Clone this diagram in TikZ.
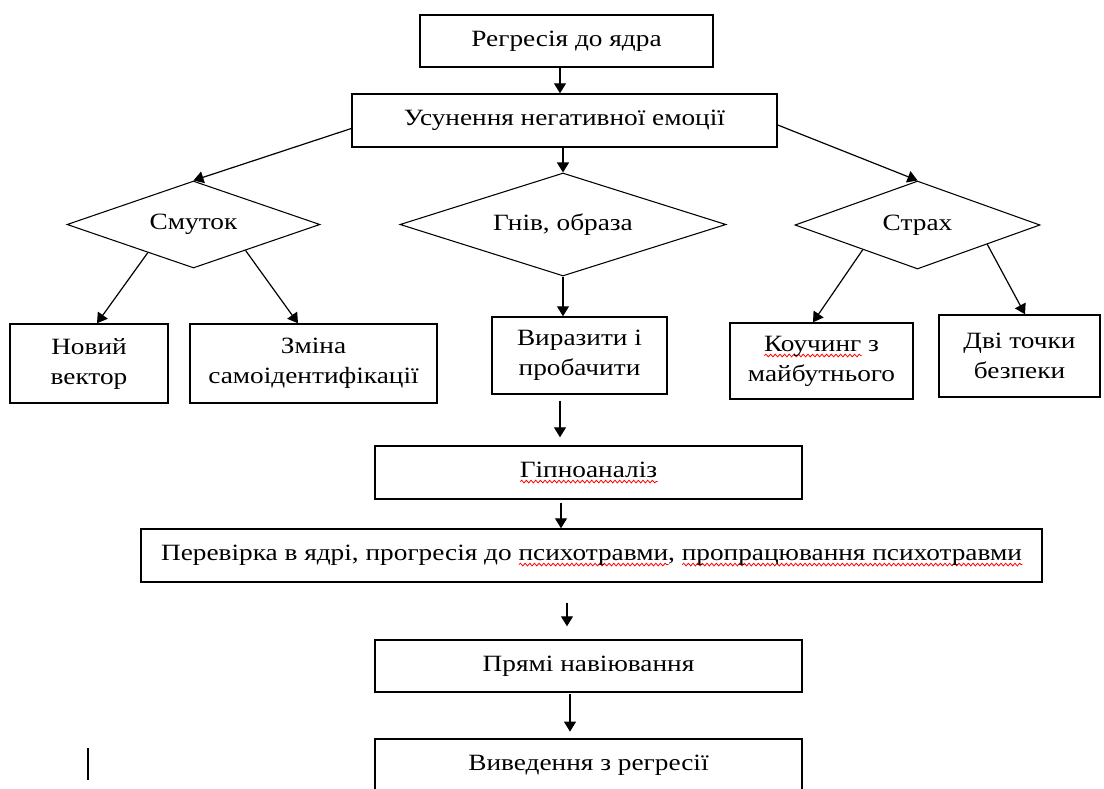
\documentclass[tikz,border=0pt]{standalone}
\usepackage{fontspec}
\setmainfont[FakeStretch=1.17]{Liberation Serif}
\usetikzlibrary{shapes.geometric,arrows.meta,calc,decorations.pathmorphing}
\newsavebox\wavebox
\newlength\wavelen
\newcommand\redwave[1]{\sbox\wavebox{#1}\setlength\wavelen{\wd\wavebox}%
  \rlap{\tikz[baseline=0pt,x=1pt,y=1pt]\draw[red,line width=0.6pt,decorate,decoration={snake,amplitude=1pt,segment length=3.5pt}] (0pt,-3.3pt) -- (\wavelen,-3.3pt);}%
  \usebox\wavebox}
\begin{document}
\begin{tikzpicture}[x=0.75pt,y=-0.75pt,
  font=\fontsize{17.5}{22.5}\selectfont,
  sz/.style 2 args={minimum width=#1*0.75pt, minimum height=#2*0.75pt},
  box/.style={draw, line width=1.1pt, rectangle, inner sep=0pt, align=center},
  dia/.style={draw, line width=0.8pt, diamond, inner sep=0pt},
  arr/.style={-{Triangle[length=7.5pt,width=9pt]}, line width=0.9pt}]
\useasboundingbox (0,0) rectangle (1104,789);

% boxes
\node[box, sz={293}{52}] (b1) at (566.5,41) {Регресія до ядра};
\node[box, sz={425}{53}] (b2) at (564.5,120.5) {Усунення негативної емоції};
\node[dia, sz={253}{87}, aspect=2.9] (d1) at (193.5,224.5) {Смуток};
\node[dia, sz={326}{103}, aspect=3.16] (d2) at (563,224.5) {Гнів, образа};
\node[dia, sz={245}{88}, aspect=2.8] (d3) at (917.5,225) {Страх};
\node[box, sz={158}{79}] (n1) at (89,363.5) {Новий\\вектор};
\node[box, sz={247}{79}] (n2) at (313.5,363.5) {Зміна\\самоідентифікації};
\node[box, sz={175}{77}] (n3) at (579.5,355.5) {Виразити і\\пробачити};
\node[box, sz={183}{76}] (n4) at (821.5,361) {\redwave{Коучинг} з\\майбутнього};
\node[box, sz={161}{82}] (n5) at (1019.5,356) {Дві точки\\безпеки};
\node[box, sz={427}{53}] (g) at (588.5,472.5) {\redwave{Гіпноаналіз}};
\node[box, sz={901}{53}] (p) at (591.5,555.5) {Перевірка в ядрі, прогресія до \redwave{психотравми}, \redwave{пропрацювання психотравми}};
\node[box, sz={427}{52}] (q) at (588.5,666) {Прямі навіювання};
\node[box, sz={427}{53}] (v) at (588.5,765.5) {Виведення з регресії};

% connectors
\coordinate (t1) at ($(b1.south)+(-6.5,0)$);
\draw[arr] (t1) -- (t1 |- b2.north);
\draw[arr] ($(b2.west)+(0,8)$) -- (d1.north);
\draw[arr] (d2.north |- b2.south) -- (d2.north);
\draw[arr] ($(b2.east)+(0,4.5)$) -- (d3.north);
\draw[arr] ($(d1.west)!0.64!(d1.south)$) -- ($(n1.north)+(8,0)$);
\draw[arr] ($(d1.south)!0.41!(d1.east)$) -- ($(n2.north)+(-15.5,0)$);
\draw[arr] (d2.south) -- (d2.south |- n3.north);
\draw[arr] ($(d3.west)!0.555!(d3.south)$) -- ($(n4.north)+(-8.5,0)$);
\draw[arr] ($(d3.south)!0.567!(d3.east)$) -- ($(n5.north)+(5.5,0)$);
\coordinate (c1) at ($(n3.south)+(-19.5,6)$);
\draw[arr, shorten >=6pt] (c1) -- (c1 |- g.north);
\coordinate (c2) at ($(g.south)+(-27.5,3)$);
\draw[arr] (c2) -- (c2 |- p.north);
\coordinate (c3) at ($(p.south)+(-24.5,20)$);
\draw[arr, shorten >=9.75pt] (c3) -- (c3 |- q.north);
\coordinate (c4) at ($(q.south)+(-18.5,1)$);
\draw[arr, shorten >=5pt] (c4) -- (c4 |- v.north);

% stray mark
\coordinate (m1) at (88,748);
\coordinate (m2) at (88,780);
\draw[line width=1.1pt] (m1) -- (m2);
\end{tikzpicture}
\end{document}
